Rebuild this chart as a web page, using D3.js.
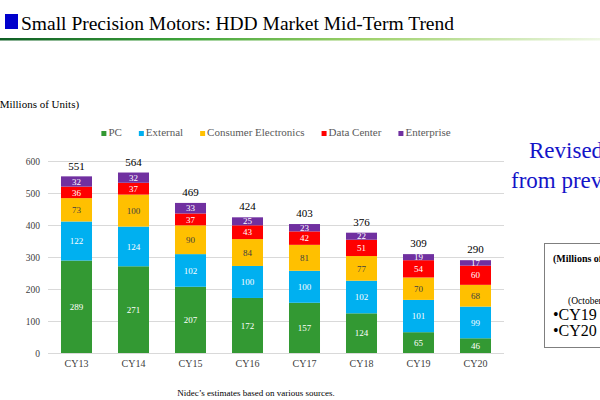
<!DOCTYPE html>
<html>
<head>
<meta charset="utf-8">
<script src="https://cdn.jsdelivr.net/npm/d3@7"></script>
<style>
  body { margin: 0; background: #fff; }
  svg { display: block; font-family: "Liberation Serif", "Times New Roman", serif; }
</style>
</head>
<body>
<svg id="chart" width="600" height="400"></svg>
<script>
// ---- data ----
const categories = ["CY13", "CY14", "CY15", "CY16", "CY17", "CY18", "CY19", "CY20"];
const seriesNames = ["PC", "External", "Consumer Electronics", "Data Center", "Enterprise"];
const pcValues = [289, 271, 207, 172, 157, 124, 65, 46];
const externalValues = [122, 124, 102, 100, 100, 102, 101, 99];
const consumerValues = [73, 100, 90, 84, 81, 77, 70, 68];
const dataCenterValues = [36, 37, 37, 43, 42, 51, 54, 60];
const enterpriseValues = [32, 32, 33, 25, 23, 22, 19, 17];
const totals = [551, 564, 469, 424, 403, 376, 309, 290];
const yTicks = [0, 100, 200, 300, 400, 500, 600];

const seriesColors = ["#339933", "#00b0f0", "#ffc000", "#ff0000", "#7030a0"];
const labelColors = ["#ffffff", "#ffffff", "#404040", "#ffffff", "#ffffff"];

const rows = categories.map((c, i) => ({
  cat: c,
  "PC": pcValues[i],
  "External": externalValues[i],
  "Consumer Electronics": consumerValues[i],
  "Data Center": dataCenterValues[i],
  "Enterprise": enterpriseValues[i],
  total: totals[i]
}));

const svg = d3.select("#chart");

// ---- title ----
const defs = svg.append("defs");
const grad = defs.append("linearGradient").attr("id", "tline").attr("x1", "0%").attr("x2", "100%");
grad.append("stop").attr("offset", "0%").attr("stop-color", "#0f5e25");
grad.append("stop").attr("offset", "30%").attr("stop-color", "#3da23a");
grad.append("stop").attr("offset", "60%").attr("stop-color", "#9cd068");
grad.append("stop").attr("offset", "100%").attr("stop-color", "#eef7e4");
svg.append("rect").attr("x", 5).attr("y", 14).attr("width", 13).attr("height", 15).attr("fill", "#0000cc");
svg.append("text").attr("x", 21).attr("y", 30).attr("font-size", 19.5).attr("fill", "#000")
  .text("Small Precision Motors: HDD Market Mid-Term Trend");
svg.append("rect").attr("x", 0).attr("y", 38).attr("width", 600).attr("height", 2.5).attr("fill", "url(#tline)");

// ---- scales ----
const x = d3.scaleBand().domain(categories).range([48, 504]).paddingInner(0.456).paddingOuter(0.228);
const y = d3.scaleLinear().domain([0, 600]).range([353, 161]);

// gridlines
svg.append("g").selectAll("line").data(yTicks).join("line")
  .attr("x1", 48).attr("x2", 504)
  .attr("y1", d => y(d) + 0.5).attr("y2", d => y(d) + 0.5)
  .attr("stroke", "#d9d9d9").attr("stroke-width", 1);

// y axis labels
const yAxis = d3.axisLeft(y).tickValues(yTicks).tickSize(0).tickPadding(0);
const gy = svg.append("g").attr("transform", "translate(40,0)").call(yAxis);
gy.select(".domain").remove();
gy.selectAll("text").attr("font-family", "Liberation Serif, Times New Roman, serif")
  .attr("font-size", 9.5).attr("fill", "#404040");

// x axis labels
const xAxis = d3.axisBottom(x).tickSize(0).tickPadding(0);
const gx = svg.append("g").attr("transform", "translate(0,360)").call(xAxis);
gx.select(".domain").remove();
gx.selectAll("text").attr("font-family", "Liberation Serif, Times New Roman, serif")
  .attr("font-size", 10).attr("fill", "#404040");

// ---- stacked bars ----
const stack = d3.stack().keys(seriesNames);
const stacked = stack(rows);

const layers = svg.append("g").selectAll("g").data(stacked).join("g")
  .attr("fill", (d, i) => seriesColors[i]);
layers.selectAll("rect").data(d => d).join("rect")
  .attr("x", d => x(d.data.cat))
  .attr("width", x.bandwidth())
  .attr("y", d => y(d[1]))
  .attr("height", d => y(d[0]) - y(d[1]));

// segment labels
const lblLayers = svg.append("g").selectAll("g").data(stacked).join("g")
  .attr("fill", (d, i) => labelColors[i]);
lblLayers.selectAll("text").data(d => d.map(v => ({ v, key: d.key }))).join("text")
  .attr("x", d => x(d.v.data.cat) + x.bandwidth() / 2)
  .attr("y", d => (y(d.v[0]) + y(d.v[1])) / 2)
  .attr("dy", "0.35em")
  .attr("text-anchor", "middle")
  .attr("font-size", 9)
  .text(d => d.v.data[d.key]);

// totals
svg.append("g").selectAll("text").data(rows).join("text")
  .attr("x", d => x(d.cat) + x.bandwidth() / 2)
  .attr("y", d => y(d.total) - 7)
  .attr("text-anchor", "middle")
  .attr("font-size", 11)
  .attr("fill", "#000")
  .text(d => d.total);

// ---- axis title ----
svg.append("text").attr("x", -4).attr("y", 108).attr("font-size", 11).attr("fill", "#000")
  .text("(Millions of Units)");

// ---- legend ----
const legend = svg.append("g").attr("font-size", 11);
let lx = 0;
seriesNames.forEach((name, i) => {
  const g = legend.append("g");
  g.append("rect").attr("x", 0).attr("y", -5).attr("width", 5).attr("height", 5).attr("fill", seriesColors[i]);
  const t = g.append("text").attr("x", 7).attr("y", 0).attr("fill", "#595959").text(name);
  const w = 7 + t.node().getComputedTextLength();
  g.attr("transform", `translate(${lx},0)`);
  lx += w + 17;
});
const legendWidth = lx - 17;
legend.attr("transform", `translate(${(48 + 504) / 2 - legendWidth / 2},136)`);

// ---- right side annotations ----
svg.append("text").attr("x", 529).attr("y", 158).attr("font-size", 23).attr("fill", "#1414c8")
  .text("Revised");
svg.append("text").attr("x", 511).attr("y", 188).attr("font-size", 23).attr("fill", "#1414c8")
  .text("from previous");

svg.append("rect").attr("x", 544.5).attr("y", 243.5).attr("width", 120).attr("height", 104)
  .attr("fill", "none").attr("stroke", "#7f7f7f").attr("stroke-width", 1);
svg.append("text").attr("x", 553).attr("y", 262).attr("font-size", 10).attr("font-weight", "bold")
  .attr("fill", "#000").text("(Millions of Units)");
svg.append("text").attr("x", 568).attr("y", 304).attr("font-size", 9.5).attr("fill", "#000")
  .text("(October)");
svg.append("text").attr("x", 553).attr("y", 320).attr("font-size", 16).attr("fill", "#000")
  .text("•CY19");
svg.append("text").attr("x", 553).attr("y", 336).attr("font-size", 16).attr("fill", "#000")
  .text("•CY20");

// ---- footnote ----
svg.append("text").attr("x", 256).attr("y", 396).attr("text-anchor", "middle").attr("font-size", 9)
  .attr("fill", "#000").text("Nidec’s estimates based on various sources.");
</script>
</body>
</html>
